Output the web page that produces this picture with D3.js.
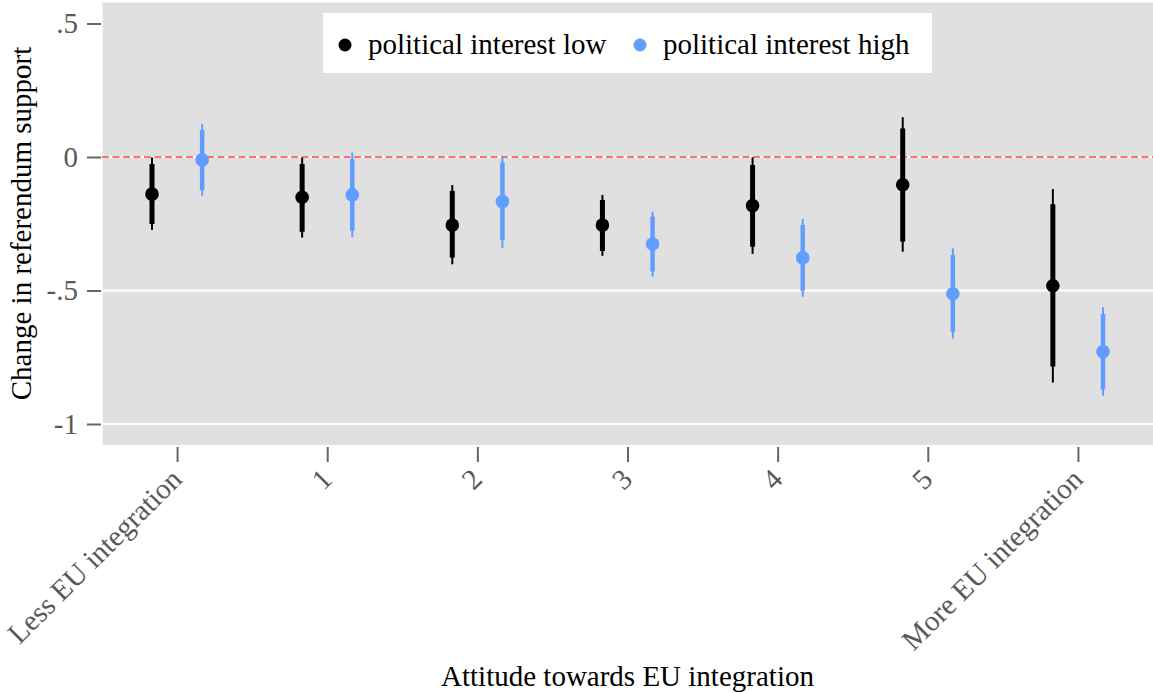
<!DOCTYPE html>
<html>
<head>
<meta charset="utf-8">
<script src="https://cdn.jsdelivr.net/npm/d3@7"></script>
<style>
  html, body { margin: 0; padding: 0; background: #ffffff; }
  svg { display: block; font-family: "Liberation Serif", "Times New Roman", serif; }
</style>
</head>
<body>
<svg id="chart" width="1153" height="693"></svg>
<script>
// Attitude categories on the x axis
const categories = ["Less EU integration", "1", "2", "3", "4", "5", "More EU integration"];

// Political interest low: point estimates, inner (thick) and outer (thin) intervals
const lowEst     = [-0.139, -0.151, -0.255, -0.255, -0.182, -0.104, -0.482];
const lowInnerLo = [-0.251, -0.280, -0.377, -0.352, -0.336, -0.317, -0.785];
const lowInnerHi = [-0.026, -0.026, -0.127, -0.161, -0.030,  0.107, -0.177];
const lowOuterLo = [-0.273, -0.302, -0.402, -0.370, -0.363, -0.355, -0.845];
const lowOuterHi = [-0.002, -0.002, -0.105, -0.142, -0.001,  0.149, -0.120];

// Political interest high
const highEst     = [-0.011, -0.142, -0.167, -0.326, -0.378, -0.512, -0.729];
const highInnerLo = [-0.124, -0.276, -0.311, -0.429, -0.501, -0.654, -0.870];
const highInnerHi = [ 0.101, -0.009, -0.021, -0.223, -0.255, -0.367, -0.588];
const highOuterLo = [-0.145, -0.300, -0.340, -0.448, -0.523, -0.680, -0.894];
const highOuterHi = [ 0.124,  0.017,  0.005, -0.205, -0.232, -0.342, -0.563];

const seriesNames = ["political interest low", "political interest high"];

// Y axis ticks and their labels
const yTicks = [0.5, 0, -0.5, -1];
const yTickLabels = [".5", "0", "-.5", "-1"];

const colors = ["#000000", "#619CFF"];
const offsets = [-0.167, 0.167];
const FONT = '"Liberation Serif", "Times New Roman", serif';
const FS = 29;

const svg = d3.select("#chart");
const panel = { left: 102, right: 1153, top: 2, bottom: 445 };

const x = d3.scaleLinear().domain([-0.5, categories.length - 0.5]).range([panel.left, panel.right]);
const y = d3.scaleLinear().domain([-1.0787, 0.5805]).range([panel.bottom, panel.top]);

// Panel background
svg.append("rect")
  .attr("x", panel.left).attr("y", panel.top)
  .attr("width", panel.right - panel.left).attr("height", panel.bottom - panel.top)
  .attr("fill", "#e0e0e0");
svg.append("path")
  .attr("d", `M${panel.left + 0.5},${panel.bottom}V${panel.top + 0.5}H${panel.right}`)
  .attr("fill", "none").attr("stroke", "#f3f3f3").attr("stroke-width", 1);

// Horizontal gridlines
svg.append("g").selectAll("line")
  .data(yTicks.filter(v => v <= 0))
  .join("line")
  .attr("x1", panel.left).attr("x2", panel.right)
  .attr("y1", d => y(d)).attr("y2", d => y(d))
  .attr("stroke", "#ffffff").attr("stroke-width", 2);

// Reference line at zero
svg.append("line")
  .attr("x1", panel.left).attr("x2", panel.right)
  .attr("y1", y(0)).attr("y2", y(0))
  .attr("stroke", "#F8766D").attr("stroke-width", 2)
  .attr("stroke-dasharray", "7,3.5");

// Y axis
const yAxis = d3.axisLeft(y)
  .tickValues(yTicks)
  .tickFormat((d, i) => yTickLabels[i])
  .tickSize(14)
  .tickPadding(9);
const gy = svg.append("g").attr("transform", `translate(${panel.left - 1},0)`).call(yAxis);
gy.select(".domain").remove();
gy.selectAll(".tick line").attr("stroke", "#666666").attr("stroke-width", 2);
gy.selectAll(".tick text")
  .attr("fill", "#595959")
  .style("font-family", FONT)
  .style("font-size", FS + "px");

// X axis
const xAxis = d3.axisBottom(x)
  .tickValues(d3.range(categories.length))
  .tickFormat(i => categories[i])
  .tickSize(15)
  .tickPadding(4);
const gx = svg.append("g").attr("transform", `translate(0,${panel.bottom + 2})`).call(xAxis);
gx.select(".domain").remove();
gx.selectAll(".tick line").attr("stroke", "#666666").attr("stroke-width", 2);
gx.selectAll(".tick text")
  .attr("fill", "#595959")
  .style("font-family", FONT)
  .style("font-size", FS + "px")
  .attr("text-anchor", "end")
  .attr("dy", null)
  .attr("y", 0)
  .attr("transform", "translate(6,34) rotate(-45)");

// Intervals and point estimates
const groups = [
  { est: lowEst, inLo: lowInnerLo, inHi: lowInnerHi, outLo: lowOuterLo, outHi: lowOuterHi },
  { est: highEst, inLo: highInnerLo, inHi: highInnerHi, outLo: highOuterLo, outHi: highOuterHi }
];

groups.forEach((g, s) => {
  const rows = categories.map((c, i) => ({
    xi: i + offsets[s], est: g.est[i],
    inLo: g.inLo[i], inHi: g.inHi[i], outLo: g.outLo[i], outHi: g.outHi[i]
  }));
  const layer = svg.append("g");
  layer.selectAll("line.outer").data(rows).join("line")
    .attr("class", "outer")
    .attr("x1", d => x(d.xi)).attr("x2", d => x(d.xi))
    .attr("y1", d => y(d.outLo)).attr("y2", d => y(d.outHi))
    .attr("stroke", colors[s]).attr("stroke-width", 2);
  layer.selectAll("line.inner").data(rows).join("line")
    .attr("class", "inner")
    .attr("x1", d => x(d.xi)).attr("x2", d => x(d.xi))
    .attr("y1", d => y(d.inLo)).attr("y2", d => y(d.inHi))
    .attr("stroke", colors[s]).attr("stroke-width", s === 0 ? 5 : 4.5);
  layer.selectAll("circle").data(rows).join("circle")
    .attr("cx", d => x(d.xi)).attr("cy", d => y(d.est))
    .attr("r", 6.8)
    .attr("fill", colors[s]);
});

// Legend
const legend = svg.append("g");
legend.append("rect")
  .attr("x", 323).attr("y", 13).attr("width", 609).attr("height", 60)
  .attr("fill", "#ffffff");
const legendX = [345, 640];
seriesNames.forEach((name, s) => {
  legend.append("circle")
    .attr("cx", legendX[s]).attr("cy", 45).attr("r", 6.5)
    .attr("fill", colors[s]);
  legend.append("text")
    .attr("x", legendX[s] + 23).attr("y", 54)
    .attr("font-size", FS)
    .attr("fill", "#000000")
    .text(name);
});

// Axis titles
svg.append("text")
  .attr("transform", `translate(31,${(panel.top + panel.bottom) / 2}) rotate(-90)`)
  .attr("text-anchor", "middle")
  .attr("font-size", FS)
  .attr("fill", "#000000")
  .text("Change in referendum support");

svg.append("text")
  .attr("x", (panel.left + panel.right) / 2)
  .attr("y", 686)
  .attr("text-anchor", "middle")
  .attr("font-size", FS)
  .attr("fill", "#000000")
  .text("Attitude towards EU integration");
</script>
</body>
</html>
